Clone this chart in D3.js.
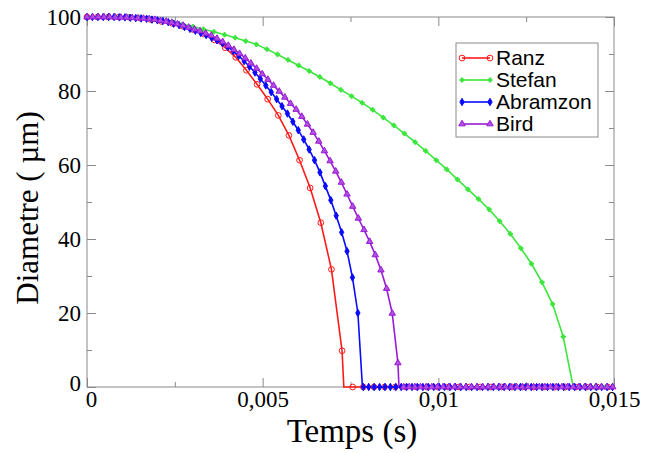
<!DOCTYPE html>
<html>
<head>
<meta charset="utf-8">
<script src="https://cdn.jsdelivr.net/npm/d3@7"></script>
<style>
  body { margin: 0; background: #fff; }
  .tick text { font-family: "Liberation Serif", "Times New Roman", serif; font-size: 23px; fill: #000; }
  .legend_item_text { font-family: "Liberation Sans", Arial, sans-serif; font-size: 21px; fill: #000; }
</style>
</head>
<body>
<div id="chart"></div>
<script>
// pas de temps des points (s), diametres lus (µm), instant de disparition (s)
const ranzPas = 0.0003025
const ranzD = [100, 100, 100, 100, 99.9, 99.7, 99.3, 98.8, 98.3, 97.5,
  96.6, 95.4, 93.8, 91.7, 89.1, 85.6, 81.8, 77.8, 73.4, 68.0,
  61.3, 53.8, 44.4, 31.8, 9.8,
  0, 0, 0, 0, 0, 0, 0, 0, 0, 0, 0, 0, 0, 0, 0, 0, 0, 0, 0, 0, 0, 0, 0, 0, 0]
const ranzFin = 0.00731

const stefanPas = 0.0003012
const stefanD = [100, 100, 100, 100, 99.9, 99.8, 99.5, 99.1, 98.6, 98.0,
  97.4, 96.7, 96.0, 95.2, 94.4, 93.5, 92.6, 91.3, 89.9, 88.4,
  86.9, 85.4, 83.8, 82.1, 80.3, 78.6, 76.8, 74.9, 72.8, 70.7,
  68.5, 66.2, 63.8, 61.3, 58.8, 56.1, 53.4, 50.8, 48.0, 44.8,
  41.4, 37.5, 33.3, 28.3, 22.4, 13.6, 0, 0, 0, 0]
const stefanFin = 0.01384

const abramzonPas = 0.0001542
const abramzonD = [100, 100, 100, 100, 100, 100, 99.9, 99.9, 99.8, 99.7,
  99.6, 99.5, 99.3, 99.1, 98.9, 98.6, 98.2, 97.8, 97.3, 96.8,
  96.3, 95.7, 95.1, 94.4, 93.7, 92.9, 91.9, 90.8, 89.5, 88.1,
  86.6, 85.0, 83.3, 81.5, 79.7, 77.8, 75.9, 73.9, 71.7, 69.4,
  66.9, 64.2, 61.3, 58.0, 54.3, 50.5, 46.3, 41.8, 36.7, 29.6,
  20.0,
  0, 0, 0, 0, 0, 0, 0, 0, 0, 0, 0, 0, 0, 0, 0, 0, 0, 0, 0, 0, 0, 0, 0, 0,
  0, 0, 0, 0, 0, 0, 0, 0, 0, 0, 0, 0, 0, 0, 0, 0, 0, 0, 0, 0, 0, 0, 0]
const abramzonFin = 0.00784

const birdPas = 0.0001609
const birdD = [100, 100, 100, 100, 100, 99.9, 99.9, 99.9, 99.8, 99.7,
  99.6, 99.5, 99.3, 99.0, 98.8, 98.5, 98.1, 97.7, 97.2, 96.7,
  96.2, 95.6, 95.0, 94.2, 93.3, 92.3, 91.2, 90.1, 88.9, 87.5,
  86.1, 84.6, 83.1, 81.5, 79.9, 78.3, 76.6, 75.0, 73.1, 71.0,
  68.8, 66.4, 63.8, 61.1, 58.3, 55.3, 52.1, 48.8, 45.6, 42.5,
  39.3, 35.7, 31.6, 26.6, 19.9, 6.5,
  0, 0, 0, 0, 0, 0, 0, 0, 0, 0, 0, 0, 0, 0, 0, 0, 0, 0, 0,
  0, 0, 0, 0, 0, 0, 0, 0, 0, 0, 0, 0, 0, 0, 0, 0, 0, 0, 0]
const birdFin = 0.00888

const xTicks = [0, 0.005, 0.01, 0.015]
const xMinor = [0.0025, 0.0075, 0.0125]
const yTicks = [0, 20, 40, 60, 80, 100]
const yMinor = [10, 30, 50, 70, 90]

const series = [
  {name: "Ranz", pas: ranzPas, d: ranzD, fin: ranzFin, color: "#ff1a1a", symbol: d3.symbolCircle, size: 26, fill: "none"},
  {name: "Stefan", pas: stefanPas, d: stefanD, fin: stefanFin, color: "#3ce63c", symbol: d3.symbolCross, size: 10, fill: "#3ce63c"},
  {name: "Abramzon", pas: abramzonPas, d: abramzonD, fin: abramzonFin, color: "#0a0aff", symbol: d3.symbolDiamond, size: 16, fill: "#0a0aff"},
  {name: "Bird", pas: birdPas, d: birdD, fin: birdFin, color: "#9a1ad6", symbol: d3.symbolTriangle, size: 18, fill: "#b050e0"}
]

let width = 648, height = 453
let svg = d3.select("#chart").append("svg").attr("width", width).attr("height", height)

let x = d3.scaleLinear().domain([0, 0.015]).range([87, 614])
let y = d3.scaleLinear().domain([0, 100]).range([387, 17])

let frame = "#8a8a8a"
let fmt = d => d === 0 ? "0" : String(d).replace(".", ",")

// axes, ticks vers l'interieur
let gx = svg.append("g").attr("transform", "translate(0,387)")
  .call(d3.axisBottom(x).tickValues(xTicks).tickSize(-9).tickPadding(4).tickFormat(fmt))
gx.selectAll(".tick text").attr("dx", d => d === 0 ? 4 : 0)
svg.append("g").attr("transform", "translate(0,387)")
  .call(d3.axisBottom(x).tickValues(xMinor).tickSize(-5).tickFormat(""))
svg.append("g").attr("transform", "translate(0,17)")
  .call(d3.axisTop(x).tickValues(xTicks).tickSize(-9).tickFormat(""))
svg.append("g").attr("transform", "translate(0,17)")
  .call(d3.axisTop(x).tickValues(xMinor).tickSize(-5).tickFormat(""))
let gy = svg.append("g").attr("transform", "translate(87,0)")
  .call(d3.axisLeft(y).tickValues(yTicks).tickSize(-9).tickPadding(6))
gy.selectAll(".tick text").attr("dy", d => d === 0 ? "0.15em" : "0.32em")
svg.append("g").attr("transform", "translate(87,0)")
  .call(d3.axisLeft(y).tickValues(yMinor).tickSize(-5).tickFormat(""))
svg.append("g").attr("transform", "translate(614,0)")
  .call(d3.axisRight(y).tickValues(yTicks).tickSize(-9).tickFormat(""))
svg.append("g").attr("transform", "translate(614,0)")
  .call(d3.axisRight(y).tickValues(yMinor).tickSize(-5).tickFormat(""))
svg.selectAll(".domain").remove()
svg.selectAll(".tick line").attr("stroke", frame)

svg.append("rect").attr("x", 87).attr("y", 17).attr("width", 527).attr("height", 370)
  .attr("fill", "none").attr("stroke", frame).attr("stroke-width", 1)

// courbes
let line = d3.line().x(p => x(p.t)).y(p => y(p.d))
series.forEach(s => {
  let pts = s.d.map((v, i) => ({t: i * s.pas, d: v}))
  let path = pts.filter(p => p.t < s.fin && p.d > 0)
    .concat([{t: s.fin, d: 0}])
    .concat(pts.filter(p => p.t > s.fin))
  svg.append("path").datum(path).attr("d", line)
    .attr("fill", "none").attr("stroke", s.color).attr("stroke-width", 1.6)
})
series.forEach(s => {
  let pts = s.d.map((v, i) => ({t: i * s.pas, d: v}))
  let sym = d3.symbol().type(s.symbol).size(s.size)
  svg.append("g").selectAll("path").data(pts).join("path")
    .attr("d", sym)
    .attr("transform", p => `translate(${x(p.t)},${y(p.d)})`)
    .attr("fill", s.fill)
    .attr("stroke", s.color).attr("stroke-width", 1)
})

// titres des axes
svg.append("text").attr("x", 352).attr("y", 442).attr("text-anchor", "middle")
  .style("font-family", '"Liberation Serif", "Times New Roman", serif').style("font-size", "33px")
  .text("Temps (s)")
svg.append("text").attr("transform", "translate(38,208) rotate(-90)").attr("text-anchor", "middle")
  .style("font-family", '"Liberation Serif", "Times New Roman", serif').style("font-size", "31px")
  .text("Diametre ( µm)")

// legende
let legend = svg.append("g")
legend.append("rect").attr("x", 456).attr("y", 43).attr("width", 142).attr("height", 94)
  .attr("fill", "#fff").attr("stroke", frame).attr("stroke-width", 1)
series.forEach((s, i) => {
  let ly = 58 + i * 22
  legend.append("line").attr("x1", 462).attr("x2", 490).attr("y1", ly).attr("y2", ly)
    .attr("stroke", s.color).attr("stroke-width", 1.6)
  let sym = d3.symbol().type(s.symbol).size(s.size)
  ;[462, 490].forEach(lx => {
    legend.append("path").attr("d", sym).attr("transform", `translate(${lx},${ly})`)
      .attr("fill", s.fill).attr("stroke", s.color).attr("stroke-width", 1)
  })
  legend.append("text").attr("x", 496).attr("y", ly + 7).text(s.name).attr("class", "legend_item_text")
})
</script>
</body>
</html>
